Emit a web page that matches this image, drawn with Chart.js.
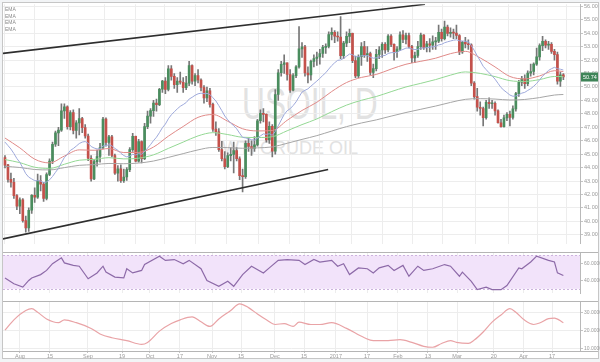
<!DOCTYPE html>
<html><head><meta charset="utf-8">
<script src="https://cdn.jsdelivr.net/npm/chart.js@4.4.1/dist/chart.umd.min.js"></script>
<style>
html,body{margin:0;padding:0;background:#f2f4f6;}
#wrap{position:relative;width:600px;height:362px;overflow:hidden;background:#f2f4f6;}
#frame{position:absolute;left:2px;top:2px;width:597px;height:357px;background:#fff;border:1px solid #c6c6c6;box-sizing:border-box;}
canvas{position:absolute;left:0;}
.wm{position:absolute;color:#e2e2e2;font-family:'Liberation Sans',Arial,sans-serif;white-space:nowrap;transform-origin:0 0;}
.leg{position:absolute;left:5px;font:5px 'Liberation Sans',Arial,sans-serif;color:#8a8a8a;}
</style></head>
<body><div id="wrap">
<div id="frame"></div>
<div class="wm" style="left:242px;top:79px;font-size:44px;transform:scaleX(0.72);">USOIL, D</div>
<div class="wm" style="left:222px;top:138px;font-size:18px;">WTI CRUDE OIL</div>
<canvas id="main" width="600" height="248" style="top:0"></canvas>
<canvas id="rsi" width="600" height="49" style="top:248px"></canvas>
<canvas id="adx" width="600" height="65" style="top:297px"></canvas>
<div class="leg" style="top:6px">EMA</div>
<div class="leg" style="top:13px">EMA</div>
<div class="leg" style="top:19px">EMA</div>
<div class="leg" style="top:26px">EMA</div>
</div>
<script>
// ---- daily candles, 22 Jul 2016 .. 21 Apr 2017 ----
const open = [44.75,44.20,43.13,42.90,41.92,41.14,41.60,40.06,39.51,40.83,
41.93,41.80,43.02,42.77,41.71,43.49,44.49,45.74,46.58,46.79,
48.22,48.52,47.05,48.10,46.77,47.33,47.64,46.98,46.35,44.70,
43.16,44.44,44.83,45.50,47.62,45.88,46.29,44.90,43.58,43.91,
43.03,43.30,43.85,45.34,46.32,44.48,45.93,44.67,47.05,47.83,
48.24,48.81,48.69,49.83,50.44,49.81,51.35,50.79,50.18,50.44,
50.35,49.94,50.29,51.60,50.43,50.85,50.52,49.96,49.18,49.72,
48.70,46.86,46.67,45.34,44.66,44.07,44.89,44.98,45.27,44.66,
43.41,43.32,45.81,45.57,45.42,45.69,47.49,48.03,47.96,46.06,
47.08,45.23,49.44,51.06,51.68,51.79,50.93,49.77,50.84,51.50,
52.83,52.98,51.04,50.90,51.90,52.12,52.23,52.49,52.95,53.02,
53.90,54.06,53.77,53.72,52.33,53.26,53.76,53.99,51.96,50.82,
52.25,53.01,52.37,52.48,51.08,51.37,52.42,52.75,53.18,52.75,
53.78,53.17,52.63,52.81,53.88,53.54,53.83,53.01,52.17,52.34,
53.00,53.86,52.93,53.20,53.11,53.36,53.40,54.06,53.59,54.45,
53.99,54.05,54.01,53.83,52.61,53.33,53.20,53.14,50.28,49.28,
48.49,48.40,47.72,48.86,48.75,48.78,48.22,47.34,47.04,47.70,
47.97,47.73,48.37,49.51,50.35,50.60,50.24,51.03,51.15,51.70,
52.24,53.08,53.40,53.11,53.18,52.65,52.41,50.44,50.90];
const high = [44.90,44.25,43.60,43.20,42.00,41.75,41.70,40.40,41.00,42.00,
42.50,43.52,43.40,42.90,43.62,44.65,45.90,46.72,47.00,48.75,
48.75,48.60,48.25,48.30,47.50,48.40,47.75,47.20,46.50,44.90,
44.60,45.30,45.80,47.75,47.70,46.40,46.40,45.00,44.15,44.20,
43.90,44.00,45.50,46.55,46.35,46.10,46.00,47.30,48.20,48.40,
49.00,49.10,49.90,50.50,50.70,51.60,51.60,51.00,50.70,51.10,
50.70,50.80,51.90,51.65,51.00,51.30,50.60,50.10,50.00,49.90,
48.80,47.40,46.90,45.95,45.20,45.10,45.50,45.90,45.50,44.80,
43.90,46.00,46.20,46.00,46.30,47.60,48.30,48.40,48.00,47.40,
47.20,49.80,51.30,51.90,52.40,51.80,51.30,51.00,51.60,54.50,
53.30,53.10,51.50,52.00,52.40,52.60,52.80,53.10,53.20,54.10,
54.40,54.20,54.10,55.24,53.40,54.10,54.30,54.00,52.30,52.40,
53.30,53.40,53.00,52.60,51.70,52.80,53.00,53.30,53.30,53.90,
53.90,53.20,53.00,54.10,54.20,54.00,54.00,53.10,52.60,53.40,
54.00,53.90,53.40,53.60,53.80,53.70,54.60,54.30,54.90,54.60,
54.40,54.30,54.60,53.90,53.40,53.70,53.50,53.20,50.40,49.90,
48.90,48.50,49.00,49.20,49.00,48.90,48.30,47.60,47.90,48.10,
48.20,48.60,49.60,50.50,50.80,50.90,51.20,51.70,51.80,52.90,
53.20,53.76,53.50,53.40,53.30,52.80,52.60,51.10,51.00];
const low = [43.97,42.92,42.55,41.70,40.88,40.57,39.95,39.19,39.26,40.60,
41.42,41.70,42.26,41.49,41.59,43.40,44.30,45.57,45.63,46.70,
47.66,46.86,46.80,46.50,46.20,46.43,46.60,46.20,44.52,43.00,
43.10,44.10,44.40,45.40,45.60,44.90,44.80,43.50,43.00,42.90,
42.90,43.05,43.70,45.20,44.43,44.40,44.35,44.60,46.90,47.30,
47.80,48.20,48.60,49.60,49.50,49.70,50.50,49.90,49.60,50.20,
49.60,49.80,50.10,50.20,50.10,50.30,49.70,48.80,48.90,48.50,
46.70,46.40,45.20,44.50,43.90,44.00,44.50,43.60,44.50,43.10,
42.20,43.20,45.20,44.90,45.20,45.60,47.30,47.40,45.90,45.80,
44.80,45.00,49.00,50.80,51.00,50.50,49.60,49.70,50.70,51.40,
52.20,50.80,50.30,50.50,51.50,51.60,51.70,52.20,52.50,52.90,
53.50,53.30,53.40,52.11,52.10,53.00,53.30,51.80,50.70,50.70,
51.60,52.20,51.90,50.90,50.70,51.20,52.10,52.20,52.50,52.60,
53.00,52.00,52.20,52.70,53.30,53.20,52.90,51.80,51.80,52.20,
52.80,52.80,52.60,52.60,52.80,52.80,53.30,53.40,53.50,53.80,
53.70,53.60,53.60,52.40,52.50,52.90,52.80,50.10,49.10,48.20,
47.90,47.10,47.60,48.40,48.40,47.90,47.30,47.00,47.00,47.50,
47.10,47.60,48.20,49.30,50.10,49.90,50.10,50.80,50.90,51.60,
52.00,52.70,52.90,52.80,52.50,52.00,50.20,50.05,50.55];
const close = [44.19,43.13,42.92,41.92,41.14,41.60,40.06,39.51,40.83,41.93,
41.80,43.02,42.77,41.71,43.49,44.49,45.74,46.58,46.79,48.22,
48.52,47.05,48.10,46.77,47.33,47.64,46.98,46.35,44.70,43.16,
44.44,44.83,45.50,47.62,45.88,46.29,44.90,43.58,43.91,43.03,
43.30,43.85,45.34,46.32,44.48,45.93,44.67,47.05,47.83,48.24,
48.81,48.69,49.83,50.44,49.81,51.35,50.79,50.18,50.44,50.35,
49.94,50.29,51.60,50.43,50.85,50.52,49.96,49.18,49.72,48.70,
46.86,46.67,45.34,44.66,44.07,44.89,44.98,45.27,44.66,43.41,
43.32,45.81,45.57,45.42,45.69,47.49,48.03,47.96,46.06,47.08,
45.23,49.44,51.06,51.68,51.79,50.93,49.77,50.84,51.50,52.83,
52.98,51.04,50.90,51.90,52.12,52.23,52.49,52.95,53.02,53.90,
54.06,53.77,53.72,52.33,53.26,53.76,53.99,51.96,50.82,52.25,
53.01,52.37,52.48,51.08,51.37,52.42,52.75,53.18,52.75,53.78,
53.17,52.63,52.81,53.88,53.54,53.83,53.01,52.17,52.34,53.00,
53.86,52.93,53.20,53.11,53.36,53.40,54.06,53.59,54.45,53.99,
54.05,54.01,53.83,52.61,53.33,53.20,53.14,50.28,49.28,48.49,
48.40,47.72,48.86,48.75,48.78,48.22,47.34,47.04,47.70,47.97,
47.73,48.37,49.51,50.35,50.60,50.24,51.03,51.15,51.70,52.24,
53.08,53.40,53.11,53.18,52.65,52.41,50.44,50.90,50.74];

// ---- EMA lines ----
const emaFast = [45.90,45.64,45.38,45.05,44.68,44.39,43.98,43.55,43.29,43.16,
43.03,43.03,43.00,42.88,42.94,43.09,43.34,43.65,43.95,44.36,
44.76,44.98,45.28,45.42,45.60,45.79,45.90,45.94,45.82,45.57,
45.46,45.39,45.40,45.61,45.64,45.70,45.62,45.43,45.29,45.07,
44.90,44.80,44.85,44.99,44.94,45.04,45.00,45.20,45.45,45.71,
46.01,46.26,46.60,46.97,47.24,47.63,47.93,48.15,48.37,48.56,
48.69,48.84,49.10,49.23,49.38,49.49,49.54,49.50,49.52,49.44,
49.20,48.96,48.61,48.24,47.84,47.56,47.31,47.12,46.89,46.56,
46.25,46.21,46.15,46.08,46.04,46.18,46.36,46.51,46.47,46.52,
46.40,46.69,47.11,47.54,47.95,48.23,48.38,48.61,48.89,49.26,
49.62,49.75,49.86,50.06,50.25,50.44,50.64,50.86,51.06,51.33,
51.59,51.80,51.98,52.01,52.13,52.29,52.45,52.40,52.25,52.25,
52.32,52.33,52.34,52.22,52.14,52.17,52.22,52.31,52.35,52.49,
52.55,52.56,52.58,52.71,52.79,52.89,52.90,52.83,52.78,52.80,
52.90,52.90,52.93,52.95,52.99,53.03,53.13,53.17,53.29,53.36,
53.42,53.48,53.51,53.43,53.42,53.40,53.37,53.08,52.72,52.32,
51.94,51.54,51.29,51.05,50.83,50.58,50.27,49.96,49.75,49.58,
49.40,49.31,49.33,49.42,49.54,49.60,49.74,49.87,50.05,50.26,
50.53,50.80,51.02,51.23,51.36,51.46,51.36,51.32,51.26];
const emaSlowIdx = [0,5,10,15,20,25,30,35,40,45,50,55,60,65,70,75,80,85,90,95,100,105,110,115,120,125,130,135,140,145,150,155,160,165,170,175,180,185,188];
const emaMid = [46.20,45.47,44.63,44.35,44.86,45.32,45.29,45.42,45.12,45.13,45.53,46.34,47.06,47.74,47.95,47.45,46.89,46.73,46.76,47.52,48.25,48.86,49.66,50.33,50.71,50.93,51.33,51.69,51.91,52.14,52.48,52.65,52.16,51.49,50.78,50.60,50.82,51.21,51.15];
const emaLong = [44.60,44.37,44.03,43.94,44.25,44.55,44.61,44.74,44.65,44.70,44.95,45.43,45.90,46.36,46.60,46.46,46.26,46.24,46.30,46.74,47.20,47.62,48.16,48.65,49.01,49.29,49.65,50.00,50.27,50.55,50.88,51.12,51.01,50.77,50.47,50.41,50.55,50.78,50.77];
const emaBase = [44.10,44.01,43.86,43.83,44.00,44.17,44.22,44.31,44.29,44.34,44.49,44.76,45.04,45.32,45.50,45.49,45.44,45.47,45.54,45.81,46.10,46.38,46.72,47.05,47.32,47.55,47.83,48.10,48.34,48.58,48.85,49.08,49.13,49.10,49.03,49.07,49.21,49.40,49.44];

// ---- trend lines [candle index, price] ----
const upperTrend = [[-0.7,52.50],[141.4,56.15]];
const lowerTrend = [[-0.7,38.70],[108.8,43.86]];

// ---- RSI and ADX ----
const rsiIdx = [0,3,6,8,9,12,14,16,19,20,23,25,28,31,33,34,37,40,41,43,46,47,52,54,57,60,62,66,68,72,75,77,80,83,87,89,92,95,99,101,104,106,110,112,114,116,119,122,124,126,129,131,134,136,139,141,144,148,150,153,154,157,159,162,164,167,169,173,174,177,179,183,185,186,188];
const rsiVal = [43,36,32,40,43,47,52,60,67,61,58,57,42,49,57,50,44,43,54,49,52,59,69,64,65,60,64,54,40,33,39,33,47,57,49,55,64,65,64,59,65,62,64,57,60,47,55,54,49,55,58,52,58,45,57,52,54,59,57,45,50,39,29,32,29,29,34,55,54,62,69,64,62,49,46];
const adxIdx = [0,3,7,9,11,14,18,20,24,29,32,36,41,46,48,52,56,59,63,66,69,72,76,79,82,85,88,91,94,97,99,103,106,110,115,121,124,129,133,137,141,144,147,150,152,156,158,161,164,167,170,172,175,178,180,183,185,188];
const adxVal = [20,25.8,31,32,30,26.3,24.2,25.8,24.2,21,17.9,15.8,14.2,12.1,13.2,19.5,23.7,25.8,27.4,24.7,22.1,26.3,31,34.7,32.6,29,25.8,23.2,23.7,22.1,24.5,23.2,23.2,24.2,21,15.8,14.2,14.2,14.7,13.2,11,10.5,12.6,14.2,13.2,12.6,14.5,19,24.5,28.5,32,30,25.5,23.2,24,26.5,26.8,24.2];

// ---- axis ticks ----
const tickIdx = [5.05,15.15,27.9,39.4,48.8,58.9,69.7,79.5,90.9,100.7,111.4,121.9,132.3,142.4,152.2,164.6,174.6,184.2];
const tickText = ['Aug','15','Sep','19','Oct','17','Nov','15','Dec','15','2017','17','Feb','13','Mar','20','Apr','17'];
const priceTicks = [39,40,41,42,43,44,45,46,47,48,49,50,51,52,53,54,55,56];
const rsiTicks = [40,60];
const adxTicks = [10,20,30];

const FONT = "'Liberation Sans', Arial, sans-serif";
Chart.defaults.font.family = FONT;
const GREEN = '#4a8d5e', RED = '#c4514b';
const X_MIN = -0.67, X_MAX = 193.6;

function xAxis(show){
  return {type:'linear', min:X_MIN, max:X_MAX, offset:false,
    afterBuildTicks:s=>{s.ticks = tickIdx.map(v=>({value:v}));},
    ticks:{display:show, autoSkip:false, maxRotation:0, font:{size:5.5}, color:'#9a9a9a', padding:0,
      callback:(v,i)=>tickText[i]},
    grid:{color:'#ededed', drawTicks:show, tickLength:2, tickColor:'#c4c4c4'},
    border:{display:false},
    afterFit:s=>{s.height = show ? 11 : 0;}
  };
}
function yAxis(min,max,ticks,dec,size){
  return {position:'right', min, max,
    afterBuildTicks:s=>{s.ticks = ticks.map(v=>({value:v}));},
    ticks:{font:{size}, color:'#9a9a9a', padding:1, callback:v=>v.toFixed(dec)},
    grid:{color:'#ededed', tickLength:3, tickColor:'#c4c4c4'},
    border:{color:'#b9b9b9'},
    afterFit:s=>{s.width = 20;}
  };
}
const panelLines = {id:'panelLines', afterDraw(c, a, o){
  const ctx=c.ctx, ca=c.chartArea; ctx.save(); ctx.strokeStyle='#b5b5b5'; ctx.lineWidth=1;
  ctx.beginPath(); ctx.moveTo(3,ca.top+0.5); ctx.lineTo(598,ca.top+0.5);
  if(o.bottom){ ctx.moveTo(3,ca.bottom+0.5); ctx.lineTo(598,ca.bottom+0.5); }
  ctx.stroke(); ctx.restore();
}};
const rsiBand = {id:'rsiBand', beforeDatasetsDraw(c){
  const ctx=c.ctx, ca=c.chartArea, y=c.scales.y;
  const t=y.getPixelForValue(70), b=y.getPixelForValue(30);
  ctx.save(); ctx.fillStyle='#f2e3fa'; ctx.fillRect(ca.left,t,ca.right-ca.left,b-t);
  ctx.strokeStyle='#cdb3de'; ctx.setLineDash([2,2]); ctx.lineWidth=1;
  ctx.beginPath(); ctx.moveTo(ca.left,Math.round(t)+0.5); ctx.lineTo(ca.right,Math.round(t)+0.5);
  ctx.moveTo(ca.left,Math.round(b)+0.5); ctx.lineTo(ca.right,Math.round(b)+0.5); ctx.stroke(); ctx.restore();
}};
const priceBox = {id:'priceBox', afterDraw(c){
  const ctx=c.ctx, ca=c.chartArea, last=close[close.length-1];
  const y=c.scales.y.getPixelForValue(last);
  ctx.save(); ctx.fillStyle='#3f8458'; ctx.fillRect(ca.right+1,y-4.5,17,9);
  ctx.fillStyle='#ffffff'; ctx.font='5.5px '+FONT; ctx.textBaseline='middle'; ctx.textAlign='left';
  ctx.fillText(last.toFixed(2), ca.right+3, y+0.5); ctx.restore();
}};
const baseOpts = {responsive:false, devicePixelRatio:1, animation:false, events:[],
  plugins:{legend:{display:false}, tooltip:{enabled:false}}};

const line = (data,color,width,extra)=>Object.assign({type:'line', data, borderColor:color, borderWidth:width,
  pointRadius:0, fill:false}, extra||{});
const smooth = {tension:0.4, cubicInterpolationMode:'monotone'};

new Chart(document.getElementById('main'), {
  type:'bar',
  data:{datasets:[
    line(upperTrend.map(p=>({x:p[0],y:p[1]})),'#2e2e2e',1.6,{order:-3}),
    line(lowerTrend.map(p=>({x:p[0],y:p[1]})),'#2e2e2e',1.6,{order:-3}),
    line(emaFast.map((v,i)=>({x:i,y:v})),'#9ea9db',1,{order:-1}),
    line(emaSlowIdx.map((x,k)=>({x,y:emaMid[k]})),'#e08a88',1,Object.assign({order:-1},smooth)),
    line(emaSlowIdx.map((x,k)=>({x,y:emaLong[k]})),'#94d894',1,Object.assign({order:-1},smooth)),
    line(emaSlowIdx.map((x,k)=>({x,y:emaBase[k]})),'#a6a6a6',1,Object.assign({order:-1},smooth)),
    {type:'bar', data:close.map((c,i)=>({x:i,y:[open[i],c]})), backgroundColor:close.map((c,i)=>c>=open[i]?GREEN:RED),
      barThickness:2, minBarLength:1, grouped:false, order:1},
    {type:'bar', data:close.map((c,i)=>({x:i,y:[low[i],high[i]]})), backgroundColor:'#777777',
      barThickness:1, grouped:false, order:2}
  ]},
  options:Object.assign({}, baseOpts, {
    layout:{padding:{left:3,top:3,right:0,bottom:0}},
    scales:{x:xAxis(false), y:yAxis(38.34,56.15,priceTicks,2,5.5)}
  }),
  plugins:[priceBox]
});

new Chart(document.getElementById('rsi'), {
  type:'line',
  data:{datasets:[line(rsiIdx.map((x,k)=>({x,y:rsiVal[k]})),'#8d6aa8',1.2)]},
  options:Object.assign({}, baseOpts, {
    layout:{padding:{left:3,top:0,right:0,bottom:0}},
    scales:{x:xAxis(false), y:yAxis(25,74,rsiTicks,4,5)},
    plugins:Object.assign({}, baseOpts.plugins, {panelLines:{bottom:false}})
  }),
  plugins:[rsiBand, panelLines]
});

new Chart(document.getElementById('adx'), {
  type:'line',
  data:{datasets:[line(adxIdx.map((x,k)=>({x,y:adxVal[k]})),'#e9a3a6',1.2,smooth)]},
  options:Object.assign({}, baseOpts, {
    layout:{padding:{left:3,top:1,right:0,bottom:0}},
    scales:{x:xAxis(true), y:yAxis(8.4,36.3,adxTicks,4,5)},
    plugins:Object.assign({}, baseOpts.plugins, {panelLines:{bottom:true}})
  }),
  plugins:[panelLines]
});
</script>
</body></html>
